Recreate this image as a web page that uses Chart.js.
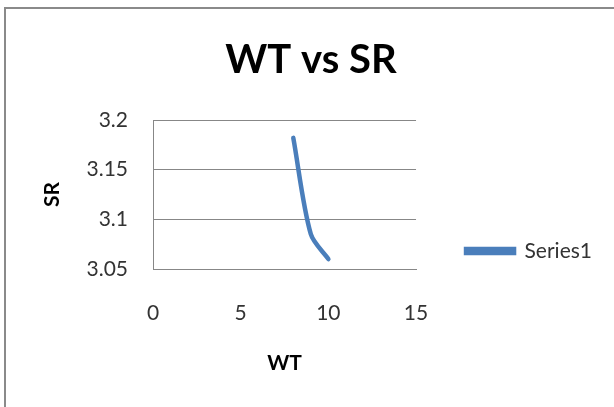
<!DOCTYPE html>
<html>
<head>
<meta charset="utf-8">
<script src="https://cdn.jsdelivr.net/npm/chart.js@4/dist/chart.umd.min.js"></script>
<style>
    html, body { margin: 0; padding: 0; background: #fff; overflow: hidden; }
    #wrap { position: relative; width: 614px; height: 407px; }
    #frame {
        position: absolute; left: 4px; top: 7px; width: 700px; height: 500px;
        border: 2px solid #8a8a8a; box-sizing: border-box;
    }
    canvas { position: absolute; left: 0; top: 0; }
</style>
</head>
<body>
<div id="wrap">
    <div id="frame"></div>
    <canvas id="chart" width="614" height="407"></canvas>
</div>
<script>
// Datos
const wtValues = [8, 9, 10];
const srValues = [3.182, 3.085, 3.06];
const seriesName = 'Series1';
const chartTitle = 'WT vs SR';
const xTitle = 'WT';
const yTitle = 'SR';

const FONT = 'Lato, "Open Sans", sans-serif';
const GRID = '#878787';

const ctx = document.getElementById('chart').getContext('2d');

new Chart(ctx, {
    type: 'line',
    data: {
        datasets: [
            {
                label: seriesName,
                data: wtValues.map((x, i) => ({ x: x, y: srValues[i] })),
                borderColor: '#4a7ebb',
                backgroundColor: '#4a7ebb',
                borderWidth: 4.5,
                borderCapStyle: 'round',
                pointRadius: 0,
                tension: 0.3,
                fill: false,
            },
        ],
    },
    options: {
        responsive: false,
        animation: false,
        layout: { padding: { left: 20, right: 12, top: 0, bottom: 0 } },
        scales: {
            x: {
                type: 'linear',
                min: 0,
                max: 15,
                afterFit: (scale) => { scale.height = 138; },
                ticks: {
                    stepSize: 5,
                    padding: 32,
                    color: '#333',
                    font: { family: FONT, size: 21 },
                },
                grid: { display: false, drawTicks: false },
                border: { display: true, color: GRID, width: 1 },
                title: {
                    display: true,
                    text: xTitle,
                    color: '#000',
                    font: { family: FONT, size: 21, weight: 'bold' },
                    padding: { top: 31, bottom: 31 },
                },
            },
            y: {
                min: 3.05,
                max: 3.2,
                afterFit: (scale) => { scale.width = 133; },
                ticks: {
                    stepSize: 0.05,
                    padding: 25,
                    color: '#333',
                    font: { family: FONT, size: 21 },
                    // Excel muestra 3.2 y 3.1 sin cero final
                    callback: (value) => String(Number(value.toFixed(2))),
                },
                grid: { color: GRID, lineWidth: 1, drawTicks: false },
                border: { display: true, color: GRID, width: 1 },
                title: {
                    display: true,
                    text: yTitle,
                    color: '#000',
                    font: { family: FONT, size: 21, weight: 'bold' },
                    padding: { top: 19.5, bottom: 19.5 },
                },
            },
        },
        plugins: {
            title: {
                display: true,
                text: chartTitle,
                color: '#000',
                font: { family: FONT, size: 40, weight: 'bold' },
                padding: { top: 36, bottom: 36 },
            },
            legend: {
                position: 'right',
                align: 'start',
                maxWidth: 300,
                title: { display: true, text: '', padding: { top: 176, bottom: 0 } },
                labels: {
                    boxWidth: 48,
                    boxHeight: 4,
                    padding: 50,
                    color: '#333',
                    font: { family: FONT, size: 21 },
                },
            },
            tooltip: { enabled: false },
        },
    },
});
</script>
</body>
</html>
